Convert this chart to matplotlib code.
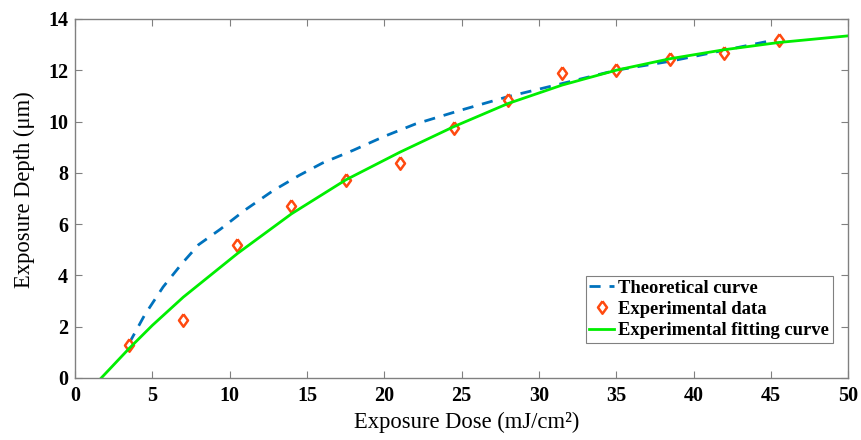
import matplotlib
matplotlib.use("Agg")
import matplotlib.pyplot as plt

# experimental data
dose_exp = [3.5, 7, 10.5, 14, 17.5, 21, 24.5, 28, 31.5, 35, 38.5, 42, 45.5]
depth_exp = [1.3, 2.25, 5.2, 6.72, 7.72, 8.37, 9.76, 10.82, 11.9, 12.0, 12.42, 12.69, 13.16]

# theoretical curve
dose_th = [3.5, 4.5, 5.7, 6.9, 8.0, 9.4, 11.0, 12.8, 14.5, 16.0, 18.0, 20.0, 22.0,
           25.0, 28.0, 31.5, 35.0, 38.5, 42.0, 45.0]
depth_th = [1.35, 2.45, 3.55, 4.45, 5.2, 5.8, 6.55, 7.3, 7.9, 8.38, 8.88, 9.42, 9.9,
            10.45, 10.97, 11.48, 12.0, 12.35, 12.78, 13.15]

# experimental fitting curve
dose_fit = [1.7, 3.5, 5, 7, 10.5, 14, 17.5, 21, 24.5, 28, 31.5, 35, 38.5, 42, 45.5, 50]
depth_fit = [0, 1.15, 2.05, 3.15, 4.85, 6.4, 7.72, 8.8, 9.8, 10.7, 11.42, 12.0,
             12.45, 12.8, 13.08, 13.34]

plt.rcParams['font.family'] = ['Liberation Serif', 'DejaVu Serif']

fig = plt.figure(figsize=(8.61, 4.40), dpi=100)
ax = fig.add_axes([0.0871, 0.141, 0.898, 0.816])

# matlab-like diamond, a bit wider than mpl's 'd'
diamond = [(0, 1), (0.72, 0), (0, -1), (-0.72, 0), (0, 1)]

ax.plot(dose_th, depth_th, '--', color='#0072BD', lw=2, dashes=(4, 3.2),
        label='Theoretical curve')
ax.plot(dose_exp, depth_exp, marker=diamond, mfc='white', mec='#FF4A10', mew=1.8,
        ms=9, linestyle='none', label='Experimental data')
ax.plot(dose_fit, depth_fit, '-', color='#00EE00', lw=2,
        label='Experimental fitting curve')

ax.set_xlim(0, 50)
ax.set_ylim(0, 14)
ax.set_xticks(range(0, 51, 5))
ax.set_yticks(range(0, 15, 2))
ax.tick_params(direction='in', top=True, right=True, length=5, color='#808080',
               labelsize=14.5)
ax.tick_params(axis='x', pad=6)
ax.tick_params(axis='y', pad=5)
for lab in ax.get_xticklabels() + ax.get_yticklabels():
    lab.set_fontweight('bold')
for s in ax.spines.values():
    s.set_color('#808080')
    s.set_linewidth(1)

ax.set_xlabel('Exposure Dose (mJ/cm²)', fontsize=16.3)
ax.set_ylabel('Exposure Depth (μm)', fontsize=16.3)
ax.xaxis.set_label_coords(0.506, -0.095)
ax.yaxis.set_label_coords(-0.052, 0.524)

leg = ax.legend(loc='lower right', bbox_to_anchor=(0.98, 0.098), fancybox=False,
                framealpha=1, edgecolor='#808080', handlelength=1.35,
                handletextpad=0.2, borderpad=0.2, labelspacing=0.22,
                borderaxespad=0.0,
                prop={'weight': 'bold', 'size': 13.4})
leg.get_frame().set_linewidth(0.8)

fig.savefig('out.png', dpi=100)
